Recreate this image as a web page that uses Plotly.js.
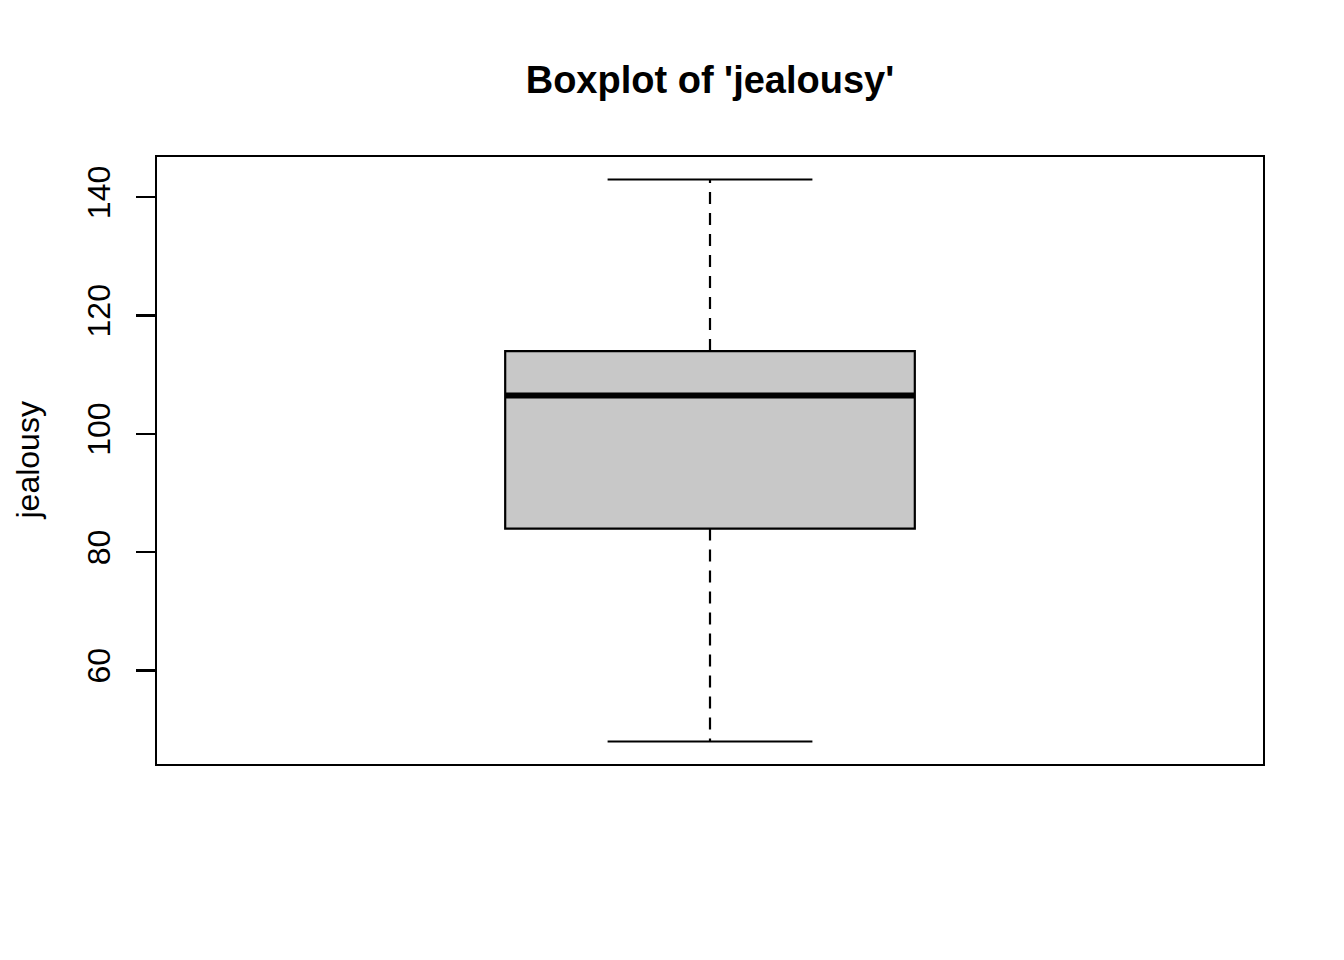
<!DOCTYPE html>
<html>
<head>
<meta charset="utf-8">
<script src="https://cdn.plot.ly/plotly-3.0.1.min.js"></script>
<style>html,body{margin:0;padding:0;background:#fff;}#chart{width:1344px;height:960px;}</style>
</head>
<body>
<div id="chart"></div>
<script>
// Data
const categories = ['jealousy'];
const whiskerLow = [48];
const q1 = [84];
const median = [106.5];
const q3 = [114];
const whiskerHigh = [143];
const yTicks = [60, 80, 100, 120, 140];
const yTickLabels = ['60', '80', '100', '120', '140'];

const FONT = 'Liberation Sans, Arial, Helvetica, sans-serif';
const boxHalf = 0.2, capHalf = 0.1;
const shapes = [];
categories.forEach((c, i) => {
  const pos = i + 1;
  // whiskers (dashed)
  shapes.push({type: 'line', xref: 'x', yref: 'y', x0: pos, x1: pos, y0: q3[i], y1: whiskerHigh[i],
    line: {color: '#000', width: 2.2, dash: '12px,9px'}});
  shapes.push({type: 'line', xref: 'x', yref: 'y', x0: pos, x1: pos, y0: q1[i], y1: whiskerLow[i],
    line: {color: '#000', width: 2.2, dash: '12px,9px'}});
  // caps
  shapes.push({type: 'line', xref: 'x', yref: 'y', x0: pos - capHalf, x1: pos + capHalf, y0: whiskerHigh[i], y1: whiskerHigh[i],
    line: {color: '#000', width: 2.2}});
  shapes.push({type: 'line', xref: 'x', yref: 'y', x0: pos - capHalf, x1: pos + capHalf, y0: whiskerLow[i], y1: whiskerLow[i],
    line: {color: '#000', width: 2.2}});
  // box
  shapes.push({type: 'rect', xref: 'x', yref: 'y', x0: pos - boxHalf, x1: pos + boxHalf, y0: q1[i], y1: q3[i],
    fillcolor: '#c8c8c8', line: {color: '#000', width: 2.2}});
  // median
  shapes.push({type: 'line', xref: 'x', yref: 'y', x0: pos - boxHalf, x1: pos + boxHalf, y0: median[i], y1: median[i],
    line: {color: '#000', width: 6}});
});

const data = [{
  type: 'scatter', mode: 'markers', x: categories.map((c, i) => i + 1), y: median,
  marker: {opacity: 0}, hoverinfo: 'skip', showlegend: false
}];

const layout = {
  width: 1344, height: 960,
  margin: {l: 157, r: 81, t: 157, b: 196, pad: 0},
  paper_bgcolor: '#fff', plot_bgcolor: '#fff',
  showlegend: false,
  font: {family: FONT, color: '#000', size: 32},
  title: {text: "Boxplot of 'jealousy'", font: {family: FONT, size: 38, weight: 'bold', color: '#000'},
    x: 0.5, xref: 'paper', xanchor: 'center', y: 1 - 80 / 960, yref: 'container', yanchor: 'middle'},
  xaxis: {range: [0.46, 1.54], showline: true, mirror: true, linecolor: '#000', linewidth: 2.2,
    showticklabels: false, ticks: '', showgrid: false, zeroline: false, fixedrange: true},
  yaxis: {range: [44.2, 146.8], tickmode: 'array', tickvals: yTicks, ticktext: yTickLabels,
    ticks: 'outside', ticklen: 19, tickwidth: 2.2, tickcolor: '#000', tickangle: -90,
    ticklabelstandoff: 13,
    tickfont: {family: FONT, size: 32, color: '#000'},
    showline: true, mirror: true, linecolor: '#000', linewidth: 2.2,
    showgrid: false, zeroline: false, fixedrange: true},
  shapes: shapes,
  annotations: [{text: 'jealousy', xref: 'paper', yref: 'paper', x: 0, y: 0.5, xanchor: 'center', yanchor: 'middle',
    xshift: -130, textangle: -90, showarrow: false, font: {family: FONT, size: 32, color: '#000'}}]
};

Plotly.newPlot('chart', data, layout, {displayModeBar: false, staticPlot: true});
</script>
</body>
</html>
